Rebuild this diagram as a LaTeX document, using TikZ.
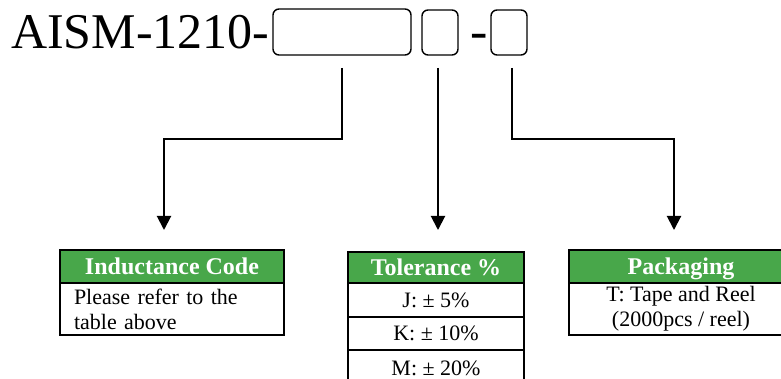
\documentclass[tikz,border=0pt]{standalone}
\usepackage{fontspec}
\setmainfont{Liberation Serif}
\usetikzlibrary{arrows.meta}
\definecolor{hdrgreen}{RGB}{72,167,74}
\begin{document}
\begin{tikzpicture}[x=1pt,y=-1pt,
  slot/.style={draw,line width=1.4pt,rounded corners=6pt,inner sep=0pt},
  conn/.style={line width=2pt,-{Triangle[width=14pt,length=14pt]}},
  hdr/.style={draw,line width=2pt,fill=hdrgreen,text=white,font=\fontsize{24}{26}\selectfont\bfseries,inner sep=0pt,text height=20pt,text depth=4pt},
  cell/.style={draw,line width=2pt,font=\fontsize{22}{25}\selectfont,inner sep=0pt},
  rowcell/.style={cell,minimum width=176pt,text height=18pt,text depth=4pt}]
\useasboundingbox (0,0) rectangle (781,379);
\clip (0,0) rectangle (781,379);
% title
\node[anchor=base west,inner sep=0pt,font=\fontsize{50}{50}\selectfont] (title) at (11,49) {AISM-1210-};
\node[slot,minimum width=138pt,minimum height=46pt] (b1) at (342,32) {};
\node[slot,minimum width=36pt,minimum height=45pt] (b2) at (440,32.5) {};
\node[anchor=base,inner sep=0pt,font=\fontsize{52}{52}\selectfont] (dash) at (479,49) {-};
\node[slot,minimum width=36pt,minimum height=45pt] (b3) at (509,32.5) {};
% connector start/end points
\coordinate (s1) at (342,68);
\coordinate (s2) at (438,68);
\coordinate (s3) at (512,68);
\coordinate (t1) at (164,230);
\coordinate (t2) at (438,230);
\coordinate (t3) at (674,230);
% tables
\node[hdr,minimum width=224pt,minimum height=33pt] (ih) at (172,266.5) {Inductance Code};
\node[cell,minimum width=224pt,minimum height=52pt,text width=196pt,inner xsep=14pt,align=left] (ib) at (172,309) {Please refer to the\\table above};
\node[hdr,minimum width=176pt,minimum height=31pt] (th) at (436,267.5) {Tolerance \%};
\node[rowcell,minimum height=34pt] (t1r) at (436,300) {J: ± 5\%};
\node[rowcell,minimum height=33pt] (t2r) at (436,333.5) {K: ± 10\%};
\node[rowcell,minimum height=36pt] (t3r) at (436,368) {M: ± 20\%};
\node[hdr,minimum width=224pt,minimum height=33pt] (ph) at (681,266.5) {Packaging};
\node[cell,minimum width=224pt,minimum height=52pt,align=center] (pb) at (681,309) {T: Tape and Reel\\(2000pcs / reel)};
% connectors
\draw[conn] (s1) -- ++(0,71) -| (t1);
\draw[conn] (s2) -- (t2);
\draw[conn] (s3) -- ++(0,71) -| (t3);
\end{tikzpicture}
\end{document}
